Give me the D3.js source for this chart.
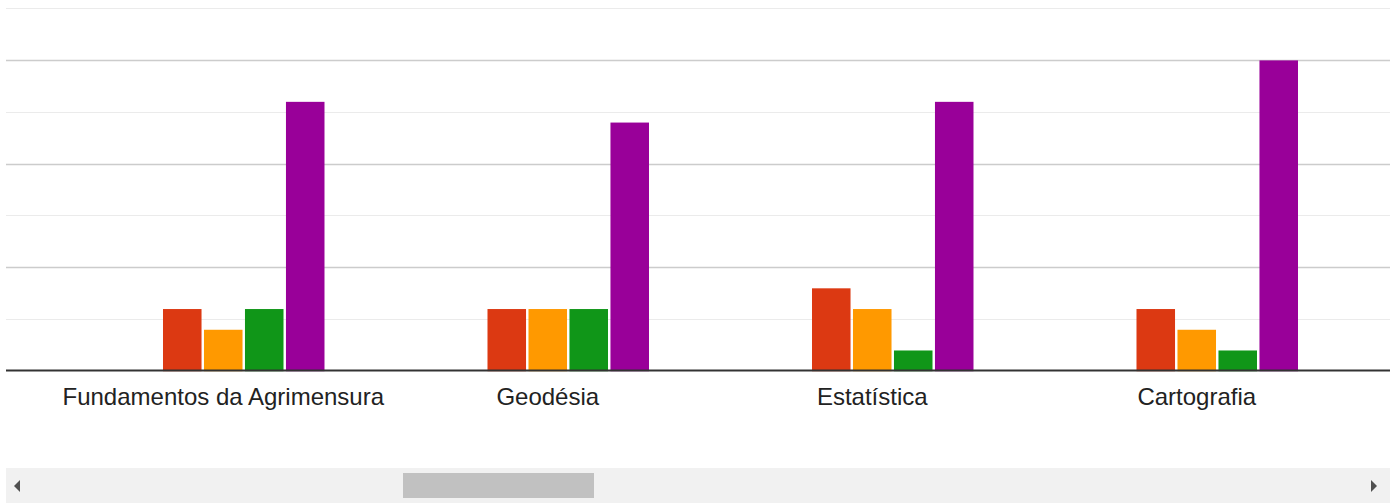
<!DOCTYPE html>
<html>
<head>
<meta charset="utf-8">
<script src="https://cdn.jsdelivr.net/npm/d3@7"></script>
<style>
  html, body { margin: 0; padding: 0; background: #fff; }
  svg { display: block; }
</style>
</head>
<body>
<svg id="chart"></svg>
<script>
const categories = ["Fundamentos da Agrimensura", "Geodésia", "Estatística", "Cartografia"];
const seriesNames = ["1", "2", "3", "4", "5"];
const serie1 = [0, 0, 0, 0];
const serie2 = [3, 3, 4, 3];
const serie3 = [2, 3, 3, 2];
const serie4 = [3, 3, 1, 1];
const serie5 = [13, 12, 13, 15];
const gridTicks = [0, 2.5, 5, 7.5, 10, 12.5, 15, 17.5];

const colors = ["#3366cc", "#dc3912", "#ff9900", "#109618", "#990099"];
const allSeries = [serie1, serie2, serie3, serie4, serie5];

const width = 1400, height = 504;
const svg = d3.select("#chart").attr("width", width).attr("height", height);

// visible window of the scrolled chart
const left = 6, right = 1390;
svg.append("defs").append("clipPath").attr("id", "clip")
  .append("rect").attr("x", left).attr("y", 0).attr("width", right - left).attr("height", 460);

const g = svg.append("g").attr("clip-path", "url(#clip)");

const y = d3.scaleLinear().domain([0, 17.5]).range([371.2, 8.6]);

const x = d3.scaleBand()
  .domain(categories)
  .range([61, 1359])
  .paddingInner(0.376)
  .paddingOuter(0.188);

const xs = d3.scaleBand()
  .domain(seriesNames)
  .range([0, x.bandwidth()])
  .paddingInner(0.06)
  .paddingOuter(0.0);

// gridlines
g.append("g").selectAll("line")
  .data(gridTicks.filter(d => d > 0))
  .join("line")
    .attr("x1", left).attr("x2", right)
    .attr("y1", d => Math.floor(y(d)) + 0.5)
    .attr("y2", d => Math.floor(y(d)) + 0.5)
    .attr("stroke", d => d % 5 === 0 ? "#cccccc" : "#ebebeb")
    .attr("stroke-width", d => d % 5 === 0 ? 1.5 : 1);

// bars
const rows = categories.map((c, i) => ({
  cat: c,
  vals: seriesNames.map((s, j) => ({ s, v: allSeries[j][i], c: colors[j] }))
}));

g.append("g").selectAll("g")
  .data(rows)
  .join("g")
    .attr("transform", d => `translate(${x(d.cat)},0)`)
  .selectAll("rect")
  .data(d => d.vals.filter(v => v.v > 0))
  .join("rect")
    .attr("x", d => xs(d.s))
    .attr("y", d => y(d.v))
    .attr("width", xs.bandwidth())
    .attr("height", d => y(0) - y(d.v))
    .attr("fill", d => d.c);

// baseline
g.append("line")
  .attr("x1", left).attr("x2", right)
  .attr("y1", 370.5).attr("y2", 370.5)
  .attr("stroke", "#333333").attr("stroke-width", 1.8);

// category labels
const xAxis = d3.axisBottom(x).tickSize(0).tickPadding(18);
const ax = g.append("g").attr("transform", "translate(0,370)").call(xAxis);
ax.select(".domain").remove();
ax.selectAll("text")
  .attr("font-family", "Arial, 'Liberation Sans', sans-serif")
  .attr("font-size", 24)
  .attr("fill", "#222222");

// horizontal scrollbar
const sb = svg.append("g");
sb.append("rect").attr("x", left).attr("y", 468).attr("width", right - left).attr("height", 35).attr("fill", "#f1f1f1");
sb.append("rect").attr("x", 403).attr("y", 473).attr("width", 191).attr("height", 25).attr("fill", "#c1c1c1");
sb.append("path").attr("d", "M14,486L20,480L20,492Z").attr("fill", "#505050");
sb.append("path").attr("d", "M1377,486L1371,480L1371,492Z").attr("fill", "#505050");
</script>
</body>
</html>
